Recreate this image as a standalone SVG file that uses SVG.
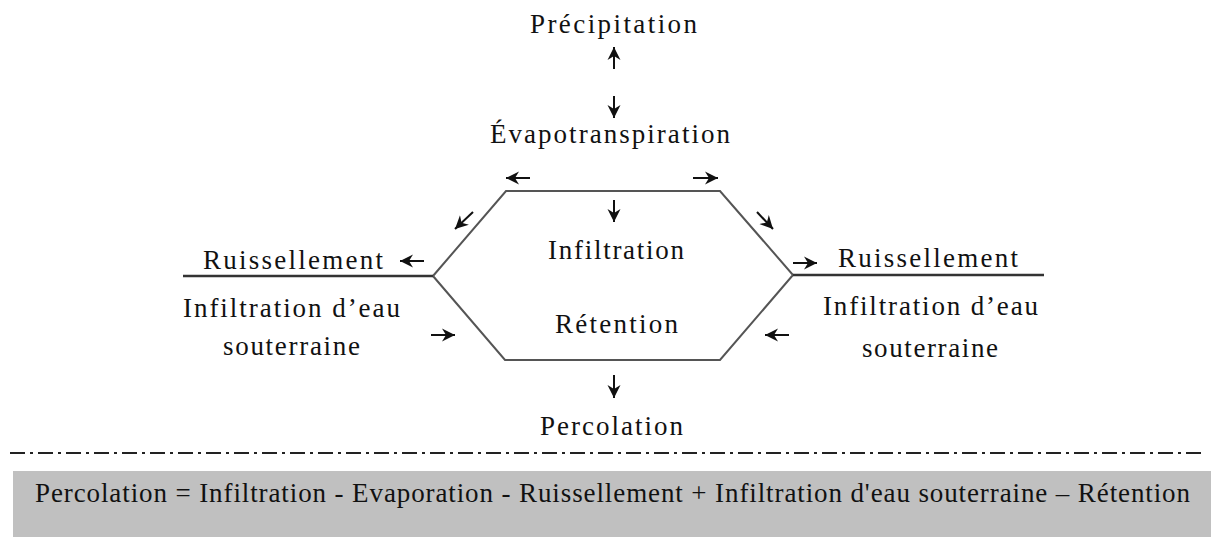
<svg xmlns="http://www.w3.org/2000/svg" width="1211" height="537" viewBox="0 0 1211 537">
<style>
text{font-size:27px;fill:#111}
.hex{fill:none;stroke:#555;stroke-width:2}
.base{stroke:#333;stroke-width:2.5;fill:none}
.arr{stroke:#111;stroke-width:2;fill:none;marker-end:url(#ah)}
</style>
<defs>
<marker id="ah" markerUnits="userSpaceOnUse" markerWidth="16" markerHeight="16" refX="13" refY="8" orient="auto">
<path d="M0,1.5 L13,8 L0,14.5 L4,8 z" fill="#111"/>
</marker>
</defs>
<rect width="1211" height="537" fill="#fff"/>
<g id="hexagon">
<polyline class="hex" points="433,276 506,191 720,191 793,275 720,360 505,360 433,276"/>
</g>
<g id="baselines">
<line class="base" x1="183" y1="276" x2="433" y2="276"/>
<line class="base" x1="793" y1="275" x2="1044" y2="275"/>
</g>
<g id="connectors">
<line class="arr" x1="614" y1="69" x2="614" y2="47"/>
<line class="arr" x1="614" y1="96" x2="614" y2="118"/>
<line class="arr" x1="530" y1="178" x2="506" y2="178"/>
<line class="arr" x1="693" y1="178" x2="718" y2="178"/>
<line class="arr" x1="614" y1="200" x2="614" y2="222"/>
<line class="arr" x1="473" y1="212" x2="455" y2="229"/>
<line class="arr" x1="757" y1="212" x2="773" y2="229"/>
<line class="arr" x1="424" y1="261" x2="400" y2="261"/>
<line class="arr" x1="793" y1="263" x2="817" y2="263"/>
<line class="arr" x1="431" y1="335" x2="455" y2="335"/>
<line class="arr" x1="789" y1="335" x2="765" y2="335"/>
<line class="arr" x1="614" y1="375" x2="614" y2="398"/>
</g>
<g font-family="Liberation Serif, DejaVu Serif, serif">
<g id="precipitation"><text x="530" y="33" textLength="167" lengthAdjust="spacing">Précipitation</text></g>
<g id="evapotranspiration"><text x="490" y="143" textLength="240" lengthAdjust="spacing">Évapotranspiration</text></g>
<g id="infiltration"><text x="548" y="259" textLength="136" lengthAdjust="spacing">Infiltration</text></g>
<g id="retention"><text x="555" y="333" textLength="123" lengthAdjust="spacing">Rétention</text></g>
<g id="percolation"><text x="540" y="435" textLength="143" lengthAdjust="spacing">Percolation</text></g>
<g id="left-labels">
<text x="203" y="269" textLength="180" lengthAdjust="spacing">Ruissellement</text>
<text x="183" y="317" textLength="217" lengthAdjust="spacing">Infiltration d’eau</text>
<text x="223" y="355" textLength="137" lengthAdjust="spacing">souterraine</text>
</g>
<g id="right-labels">
<text x="838" y="267" textLength="180" lengthAdjust="spacing">Ruissellement</text>
<text x="823" y="315" textLength="215" lengthAdjust="spacing">Infiltration d’eau</text>
<text x="862" y="357" textLength="136" lengthAdjust="spacing">souterraine</text>
</g>
</g>
<g id="separator">
<line x1="10" y1="453" x2="1205" y2="453" stroke="#222" stroke-width="2" stroke-dasharray="15,5,3,5"/>
</g>
<g id="formula">
<rect x="13" y="471" width="1198" height="66" fill="#c0c0c0"/>
<text x="35" y="502" font-family="Liberation Serif, DejaVu Serif, serif" textLength="1155" lengthAdjust="spacing">Percolation = Infiltration - Evaporation - Ruissellement + Infiltration d'eau souterraine – Rétention</text>
</g>
</svg>
